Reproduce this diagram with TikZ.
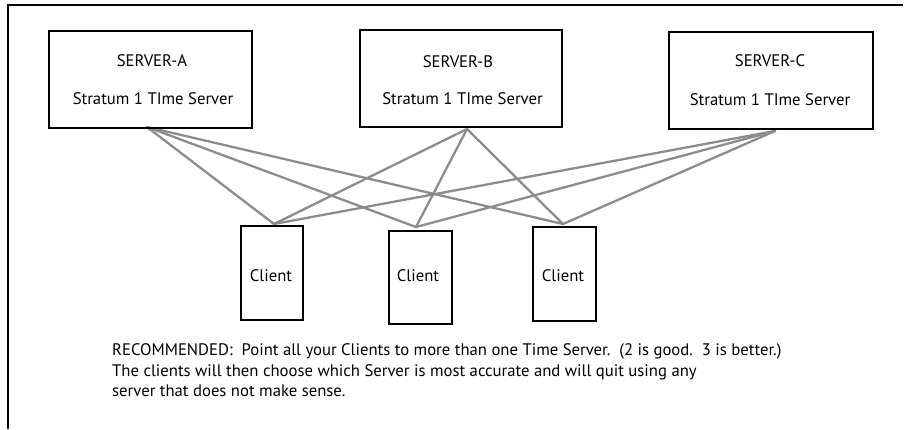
\documentclass[tikz,border=0pt]{standalone}
\usepackage{fontspec}
\setmainfont{PT Sans}
\begin{document}
\begin{tikzpicture}[x=1pt,y=-1pt,
  box/.style={draw=black,line width=1.2pt,inner sep=0pt,fill=none},
  lbl/.style={inner sep=0pt,anchor=base,font=\fontsize{16.7}{20}\selectfont},
  txt/.style={inner sep=0pt,anchor=base west,font=\fontsize{16.7}{20}\selectfont},
  link/.style={draw=black!45,line width=2.3pt,line cap=round}]
\useasboundingbox (0,0) rectangle (906,429);
% frame
\draw[line width=1.3pt] (8,429) -- (8,5) -- (903,5);
% connectors
\coordinate (pa) at (147,127);
\coordinate (pb) at (467,129);
\coordinate (pc) at (775,131);
\coordinate (q1) at (274,224);
\coordinate (q2) at (416,227);
\coordinate (q3) at (563,224);
\foreach \s in {pa,pb,pc}{
  \foreach \c in {q1,q2,q3}{
    \draw[link] (\s) -- (\c);
  }
}
% servers
\node[box,minimum width=203pt,minimum height=97pt] (sa) at (150.5,79.5) {};
\node[box,minimum width=202pt,minimum height=97pt] (sb) at (461,78.5) {};
\node[box,minimum width=204pt,minimum height=97pt] (sc) at (771,80.5) {};
\node[lbl] (sat) at (152,66) {SERVER-A};
\node[lbl] (sas) at (153,104) {Stratum 1 TIme Server};
\node[lbl] (sbt) at (458,67) {SERVER-B};
\node[lbl] (sbs) at (462.5,104) {Stratum 1 TIme Server};
\node[lbl] (sct) at (770,66) {SERVER-C};
\node[lbl] (scs) at (770,105) {Stratum 1 TIme Server};
% clients
\node[box,minimum width=62pt,minimum height=94pt] (c1) at (272,273) {};
\node[box,minimum width=63pt,minimum height=93pt] (c2) at (420.5,277.5) {};
\node[box,minimum width=63pt,minimum height=94pt] (c3) at (564.5,274) {};
\node[lbl] (c1t) at (271,281) {Client};
\node[lbl] (c2t) at (418,281) {Client};
\node[lbl] (c3t) at (563,281) {Client};
% note
\node[txt] (n1) at (112,355) {RECOMMENDED:\ \ Point all your Clients to more than one Time Server.\ \ (2 is good.\ \ 3 is better.)};
\node[txt] (n2) at (112,376) {The clients will then choose which Server is most accurate and will quit using any};
\node[txt] (n3) at (112,396) {server that does not make sense.};
\end{tikzpicture}
\end{document}
